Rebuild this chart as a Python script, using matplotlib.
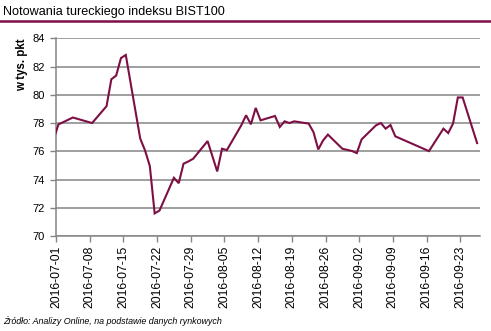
import numpy as np
import pandas as pd
import matplotlib
matplotlib.use("Agg")
import matplotlib.pyplot as plt
import matplotlib.dates as mdates
from matplotlib.lines import Line2D

# BIST100 closing values, thousands of points
dates = [
    "2016-06-30", "2016-07-01", "2016-07-04", "2016-07-08",
    "2016-07-11", "2016-07-12", "2016-07-13", "2016-07-14", "2016-07-15",
    "2016-07-18", "2016-07-19", "2016-07-20", "2016-07-21", "2016-07-22",
    "2016-07-25", "2016-07-26", "2016-07-27", "2016-07-28", "2016-07-29",
    "2016-08-01", "2016-08-02", "2016-08-03", "2016-08-04", "2016-08-05",
    "2016-08-08", "2016-08-09", "2016-08-10", "2016-08-11", "2016-08-12",
    "2016-08-15", "2016-08-16", "2016-08-17", "2016-08-18", "2016-08-19",
    "2016-08-22", "2016-08-23", "2016-08-24", "2016-08-25", "2016-08-26",
    "2016-08-29", "2016-08-31", "2016-09-01", "2016-09-02",
    "2016-09-05", "2016-09-06", "2016-09-07", "2016-09-08", "2016-09-09",
    "2016-09-16",
    "2016-09-19", "2016-09-20", "2016-09-21", "2016-09-22", "2016-09-23",
    "2016-09-26",
]
values = [
    76.82, 77.90, 78.39, 78.00,
    79.19, 81.10, 81.36, 82.60, 82.82,
    76.90, 76.06, 74.95, 71.60, 71.80,
    74.12, 73.74, 75.12, 75.28, 75.47,
    76.72, 75.65, 74.57, 76.18, 76.08,
    77.84, 78.55, 77.91, 79.07, 78.19,
    78.50, 77.72, 78.12, 78.00, 78.12,
    77.96, 77.36, 76.13, 76.77, 77.18,
    76.18, 76.02, 75.87, 76.84,
    77.84, 78.00, 77.60, 77.86, 77.06,
    76.01,
    77.60, 77.29, 77.96, 79.81, 79.81,
    76.58,
]
yticks = [70, 72, 74, 76, 78, 80, 82, 84]
xtick_dates = pd.date_range("2016-07-01", "2016-09-23", freq="7D")

title = "Notowania tureckiego indeksu BIST100"
ylabel = "w tys. pkt"
source = "Źródło: Analizy Online, na podstawie danych rynkowych"

maroon = "#7d0f45"
grid_grey = "#858585"
plt.rcParams["font.family"] = ["Liberation Sans", "DejaVu Sans"]

# points sit in the middle of their day
x = pd.to_datetime(dates) + pd.Timedelta(hours=12)

fig = plt.figure(figsize=(4.91, 3.31), dpi=100)
ax = fig.add_axes([56 / 491, 1 - 236 / 331, (479.5 - 56) / 491, (236 - 38.3) / 331])

ax.plot(x, values, color=maroon, lw=1.5, solid_joinstyle="miter", zorder=3)

ax.set_xlim(pd.Timestamp("2016-07-01"), pd.Timestamp("2016-09-27"))
ax.set_ylim(70, 84)
ax.set_yticks(yticks)
ax.set_xticks(xtick_dates)
ax.xaxis.set_major_formatter(mdates.DateFormatter("%Y-%m-%d"))

ax.grid(axis="y", color=grid_grey, lw=1.1)
ax.set_axisbelow(True)
for s in ["top", "right"]:
    ax.spines[s].set_visible(False)
for s in ["left", "bottom"]:
    ax.spines[s].set_color(grid_grey)
    ax.spines[s].set_linewidth(1.1)

ax.tick_params(axis="both", colors=grid_grey, length=4, width=1.0,
               labelcolor="black")
ax.tick_params(axis="x", labelsize=8.7, labelrotation=90, pad=3)
ax.tick_params(axis="y", labelsize=8, pad=4)

fig.text(22 / 491, 1 - 65 / 331, ylabel, rotation=90, ha="center", va="center",
         fontsize=8.3, fontweight="bold")

fig.text(3 / 491, 1 - 12 / 331, title, ha="left", va="center", fontsize=9.1)
fig.add_artist(Line2D([0, 1], [1 - 20.5 / 331, 1 - 20.5 / 331],
                      transform=fig.transFigure, color=maroon, lw=1.8))

fig.text(3 / 491, 1 - 321 / 331, source, ha="left", va="center",
         fontsize=6.4, style="italic")

fig.savefig("out.png", dpi=100)
